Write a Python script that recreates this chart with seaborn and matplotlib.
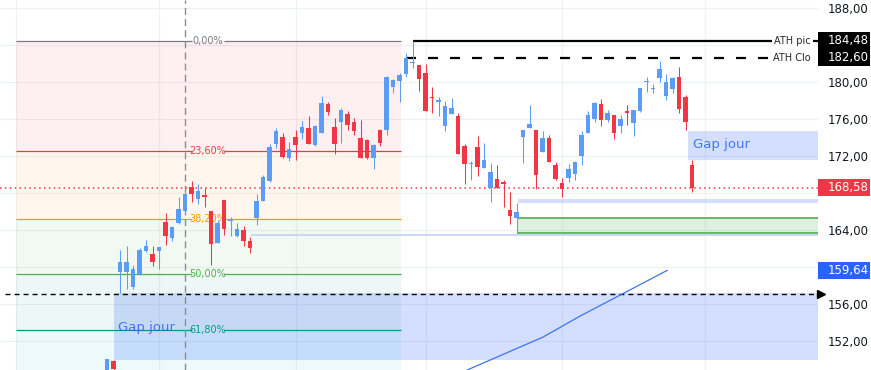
import numpy as np
import pandas as pd
import seaborn as sns
import matplotlib.pyplot as plt
from matplotlib.patches import Rectangle

# daily candles (index 0 = first visible candle)
opens = [148.3, 149.8, 159.49, 159.43, 157.87, 159.24, 161.76, 161.41, 161.76, 164.83,
         163.17, 164.72, 166.09, 168.62, 167.35, 167.78, 166.05, 162.63, 167.24, 164.92,
         163.35, 164.0, 162.81, 165.33, 167.17, 169.3, 173.3, 174.05, 171.82, 174.05,
         174.52, 175.03, 173.19, 174.52, 177.62, 175.1, 175.71, 176.54, 175.68, 173.95,
         173.73, 171.82, 174.81, 174.81, 179.49, 180.11, 180.83, 182.02, 181.84, 180.97,
         178.27, 177.89, 175.24, 176.57, 176.32, 173.08, 171.11, 172.97, 170.74, 168.57,
         169.51, 169.19, 166.16, 165.26, 174.09, 175.06, 174.78, 172.4, 173.91, 171.0,
         169.05, 169.65, 170.09, 172.03, 174.52, 176.0, 177.62, 175.89, 176.46, 175.24,
         176.74, 175.6, 176.83, 179.95, 179.19, 180.46, 178.52, 179.28, 180.54, 178.38,
         171.03]
highs = [150.1, 150.0, 161.81, 162.27, 160.22, 162.09, 162.92, 162.27, 162.16, 165.87,
         164.46, 167.6, 168.1, 169.3, 168.97, 168.51, 166.1, 165.08, 167.24, 165.44,
         164.76, 164.46, 163.27, 167.89, 169.95, 173.33, 175.06, 174.52, 173.51, 174.81,
         175.82, 176.32, 175.35, 178.49, 177.87, 176.08, 177.16, 176.86, 176.08, 175.89,
         173.84, 173.3, 174.92, 180.65, 180.36, 181.0, 183.1, 184.48, 181.84, 181.95,
         179.46, 178.38, 177.95, 178.27, 176.65, 173.26, 171.43, 174.16, 173.41, 171.24,
         171.03, 169.37, 168.11, 166.92, 174.81, 177.51, 174.81, 174.67, 174.27, 171.35,
         169.59, 171.14, 171.49, 174.67, 176.86, 177.87, 178.16, 176.97, 176.46, 176.43,
         177.51, 176.97, 179.35, 180.51, 179.75, 182.27, 180.86, 180.57, 181.65, 178.59,
         171.57]
lows = [148.0, 148.8, 157.22, 157.59, 157.59, 159.14, 161.65, 160.11, 159.75, 162.38,
        162.84, 164.65, 165.62, 166.99, 166.81, 166.45, 160.22, 162.59, 163.46, 163.38,
        163.27, 162.27, 161.55, 164.54, 167.14, 169.22, 172.9, 171.82, 171.49, 171.57,
        173.87, 173.3, 173.08, 174.49, 176.46, 172.22, 173.44, 174.81, 174.3, 171.73,
        171.68, 170.63, 173.08, 174.3, 178.84, 177.87, 180.57, 181.48, 179.06, 176.9,
        176.62, 176.36, 174.74, 176.57, 172.25, 169.0, 169.44, 169.87, 170.74, 167.06,
        168.57, 166.52, 164.68, 163.64, 171.21, 175.06, 168.4, 172.4, 171.32, 169.44,
        167.54, 169.16, 169.41, 171.0, 174.52, 175.71, 175.28, 175.71, 173.87, 174.49,
        175.35, 174.16, 176.81, 178.95, 178.78, 180.03, 178.05, 178.78, 176.62, 174.81,
        168.14]
closes = [150.05, 149.0, 160.54, 160.54, 159.75, 161.84, 162.27, 160.57, 162.13, 163.38,
          164.29, 166.24, 167.89, 167.86, 168.22, 167.6, 162.49, 164.72, 164.14, 164.97,
          164.11, 162.84, 162.09, 167.14, 169.7, 172.97, 174.7, 171.92, 172.72, 173.19,
          175.1, 173.33, 175.24, 177.7, 176.79, 173.33, 176.97, 175.35, 174.74, 171.75,
          171.78, 173.16, 173.44, 180.54, 180.22, 180.72, 182.6, 182.1, 180.36, 176.9,
          178.22, 177.93, 177.41, 177.19, 172.25, 171.17, 171.14, 170.84, 171.57, 170.27,
          168.57, 169.01, 165.55, 165.95, 174.81, 175.46, 169.98, 173.91, 171.32, 169.55,
          168.4, 170.56, 171.35, 174.24, 176.43, 177.7, 175.89, 176.65, 174.52, 176.0,
          176.7, 176.97, 179.32, 179.98, 179.22, 181.41, 179.97, 180.43, 177.11, 175.71,
          168.58]

# moving average line (key points)
ma_x = [54, 55.4, 62.5, 67.1, 72.8, 86.2]
ma_y = [148.3, 148.86, 151.03, 152.43, 154.7, 159.64]

fib_high, fib_low = 184.48, 133.92
fib_levels = [0.0, 0.236, 0.382, 0.5, 0.618, 0.786]
fib_labels = ["0,00%", "23,60%", "38,20%", "50,00%", "61,80%"]
fib_colors = ["#787b86", "#f23645", "#ff9800", "#4caf50", "#089981", "#00bcd4"]

ath_pic, ath_clo, last_close, ma_last = 184.48, 182.60, 168.58, 159.64
yticks = list(range(152, 189, 4))
hidden_ticks = [184, 168, 160]  # covered by the price tags
month_grid = [-14, 8, 29, 49, 70, 92]

UP, DOWN = "#5b9cf6", "#f23645"
BLUE = "#2962ff"

sns.set_style("white")
plt.rcParams["font.family"] = ["DejaVu Sans"]

fig = plt.figure(figsize=(8.71, 3.70), dpi=100)
ax = fig.add_axes([0, 0, 818 / 871, 1])
x_left, x_right = -107 / 6.5, (818 - 107) / 6.5
ax.set_xlim(x_left, x_right)
ax.set_ylim(148.865, 188.865)

# grid
for g in yticks:
    ax.axhline(g, color="#eef0f3", lw=0.9, zorder=0)
for g in month_grid:
    ax.axvline(g, color="#eef0f3", lw=0.9, zorder=0)

# fibonacci retracement
rng = fib_high - fib_low
fx0, fx1, fmid = -14, 45.2, 15.46
for k in range(len(fib_levels) - 1):
    top = fib_high - fib_levels[k] * rng
    bot = fib_high - fib_levels[k + 1] * rng
    ax.fill_between([fx0, fx1], bot, top, color=fib_colors[max(k + 1, 1) if k > 0 else 1],
                    alpha=0.07, lw=0, zorder=1)
for k, lab in enumerate(fib_labels):
    lv = fib_high - fib_levels[k] * rng
    ax.hlines(lv, fx0, 13.0, color=fib_colors[k], lw=0.9, zorder=2)
    ax.hlines(lv, 18.0, fx1, color=fib_colors[k], lw=0.9, zorder=2)
    ax.text(fmid, lv, lab, color=fib_colors[k], fontsize=7, ha="center", va="center", zorder=2)

# gap boxes
ax.add_patch(Rectangle((1, 149.95), x_right - 1, 157.22 - 149.95, color=BLUE, alpha=0.2, lw=0, zorder=1.5))
ax.add_patch(Rectangle((89.4, 171.57), x_right - 89.4, 174.75 - 171.57, color=BLUE, alpha=0.2, lw=0, zorder=1.5))
ax.text(1.7, 153.5, "Gap jour", color=BLUE, alpha=0.85, fontsize=9.5, va="center", zorder=2)
ax.text(90.1, 173.2, "Gap jour", color=BLUE, alpha=0.85, fontsize=9.5, va="center", zorder=2)

# support zones
ax.add_patch(Rectangle((63.2, 166.95), x_right - 63.2, 0.4, color=BLUE, alpha=0.2, lw=0, zorder=1.5))
ax.hlines(163.42, 22.2, x_right, color="#c6d5f7", lw=1.3, zorder=1.6)
ax.add_patch(Rectangle((63, 163.64), x_right - 63, 165.27 - 163.64, color="#4caf50", alpha=0.18, lw=0, zorder=1.5))
ax.hlines([163.64, 165.27], 63, x_right, color="#4caf50", lw=1.2, zorder=1.7)

# horizontal reference lines
ax.hlines(last_close, x_left, x_right, color=DOWN, lw=1.1, linestyle=(0, (1, 2.2)), zorder=2)
ax.hlines(157.08, -15.7, x_right, color="black", lw=1.0, linestyle=(0, (3.6, 2.9)), zorder=2)
ax.axvline(12, color="#8a8d96", lw=1.0, linestyle=(0, (5, 3)), zorder=2)
ax.hlines(ath_pic, 47, x_right, color="black", lw=1.6, zorder=2)
ax.hlines(ath_clo, 46, x_right, color="black", lw=1.6, linestyle=(0, (4.5, 5.4)), zorder=2)
ax.text(811 / 818, ath_pic, "ATH pic", transform=ax.get_yaxis_transform(), fontsize=7,
        ha="right", va="center", zorder=4,
        bbox=dict(facecolor="white", edgecolor="none", pad=1.5))
ax.text(811 / 818, ath_clo, "ATH Clo", transform=ax.get_yaxis_transform(), fontsize=7,
        ha="right", va="center", zorder=4,
        bbox=dict(facecolor="white", edgecolor="none", pad=1.5))

# moving average
sns.lineplot(x=ma_x, y=ma_y, ax=ax, color="#3d73f0", lw=0.9, zorder=2.5)

# candles
df = pd.DataFrame({"o": opens, "h": highs, "l": lows, "c": closes})
df["i"] = np.arange(len(df))
df["col"] = np.where(df["c"] >= df["o"], UP, DOWN)
ax.vlines(df["i"], df["l"], df["h"], colors=df["col"], lw=0.75, zorder=3)
bottom = df[["o", "c"]].min(axis=1)
height = (df["c"] - df["o"]).abs().clip(lower=0.12)
ax.bar(df["i"], height, bottom=bottom, width=0.72, color=df["col"], lw=0, zorder=3.1)

# right price scale
ax.yaxis.tick_right()
ax.set_yticks(yticks)
ax.set_yticklabels(["" if v in hidden_ticks else f"{v:.2f}".replace(".", ",") for v in yticks],
                   fontsize=8.5, color="#131722")
ax.tick_params(axis="y", length=0, pad=7)
ax.set_xticks([])
for s in ax.spines.values():
    s.set_visible(False)

tw = 52 / 818
for val, col in [(ath_pic, "black"), (ath_clo, "black"), (last_close, DOWN), (ma_last, BLUE)]:
    ax.add_patch(Rectangle((1.0, val - 0.92), tw, 1.84, transform=ax.get_yaxis_transform(),
                           facecolor=col, edgecolor="none", clip_on=False, zorder=5))
    ax.text(1.0 + 10 / 818, val, f"{val:.2f}".replace(".", ","), transform=ax.get_yaxis_transform(),
            color="white", fontsize=8.5, ha="left", va="center", zorder=6, clip_on=False)
ax.plot([1.0 + 3 / 818], [157.08], marker=">", color="black", markersize=6,
        transform=ax.get_yaxis_transform(), clip_on=False, zorder=6)

fig.savefig("out.png", dpi=100)
